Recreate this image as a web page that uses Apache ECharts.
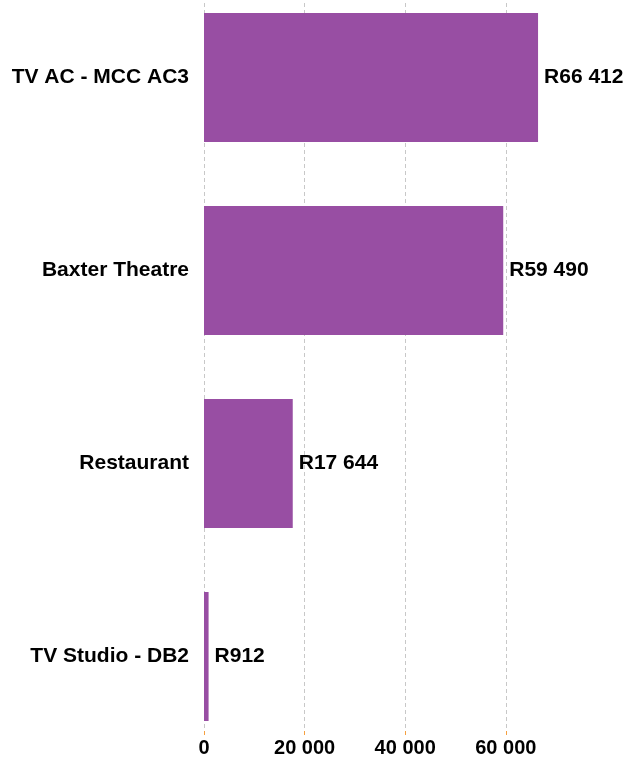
<!DOCTYPE html>
<html>
<head>
<meta charset="utf-8">
<script src="https://cdn.jsdelivr.net/npm/echarts@6/dist/echarts.min.js"></script>
<style>
html,body{margin:0;padding:0;background:#fff;}
#chart{width:637px;height:760px;}
</style>
</head>
<body>
<div id="chart"></div>
<script>
const categories = ['TV AC - MCC AC3', 'Baxter Theatre', 'Restaurant', 'TV Studio - DB2'];
const values = [66412, 59490, 17644, 912];
const tickMin = 0, tickMax = 60000, tickInterval = 20000;

function fmt(v) {
  return String(Math.round(v)).replace(/\B(?=(\d{3})+(?!\d))/g, ' ');
}

const FONT = '"Liberation Sans", Arial, Helvetica, sans-serif';
const chart = echarts.init(document.getElementById('chart'));
chart.setOption({
  animation: false,
  grid: [
    { left: 204, top: -19, width: 352.1, height: 772, containLabel: false, outerBoundsMode: 'none' },
    { left: 204, top: 3, width: 301.8, height: 728, containLabel: false, outerBoundsMode: 'none' }
  ],
  xAxis: [
    { gridIndex: 0, type: 'value', min: 0, max: 70000, show: false },
    {
      gridIndex: 1, type: 'value', min: tickMin, max: tickMax, interval: tickInterval,
      axisLine: { show: false },
      axisTick: { show: true, length: 4, lineStyle: { color: '#f5a040', width: 1 } },
      splitLine: { show: true, lineStyle: { color: '#c8c8c8', type: [4, 3], width: 1 } },
      axisLabel: { margin: 7, color: '#000', fontFamily: FONT, fontWeight: 'bold', fontSize: 20, formatter: fmt }
    }
  ],
  yAxis: [
    {
      gridIndex: 0, type: 'category', data: categories, inverse: true,
      axisLine: { show: false }, axisTick: { show: false }, splitLine: { show: false },
      axisLabel: { margin: 15, color: '#000', fontFamily: FONT, fontWeight: 'bold', fontSize: 21, padding: [3, 0, 0, 0] }
    },
    { gridIndex: 1, type: 'value', show: false }
  ],
  series: [{
    type: 'bar', xAxisIndex: 0, yAxisIndex: 0,
    data: values, barWidth: 129,
    itemStyle: { color: '#984ea3' },
    label: {
      show: true, position: 'right', distance: 6, color: '#000',
      fontFamily: FONT, fontWeight: 'bold', fontSize: 21, padding: [3, 0, 0, 0],
      formatter: p => 'R' + fmt(p.value)
    }
  }]
});
</script>
</body>
</html>
